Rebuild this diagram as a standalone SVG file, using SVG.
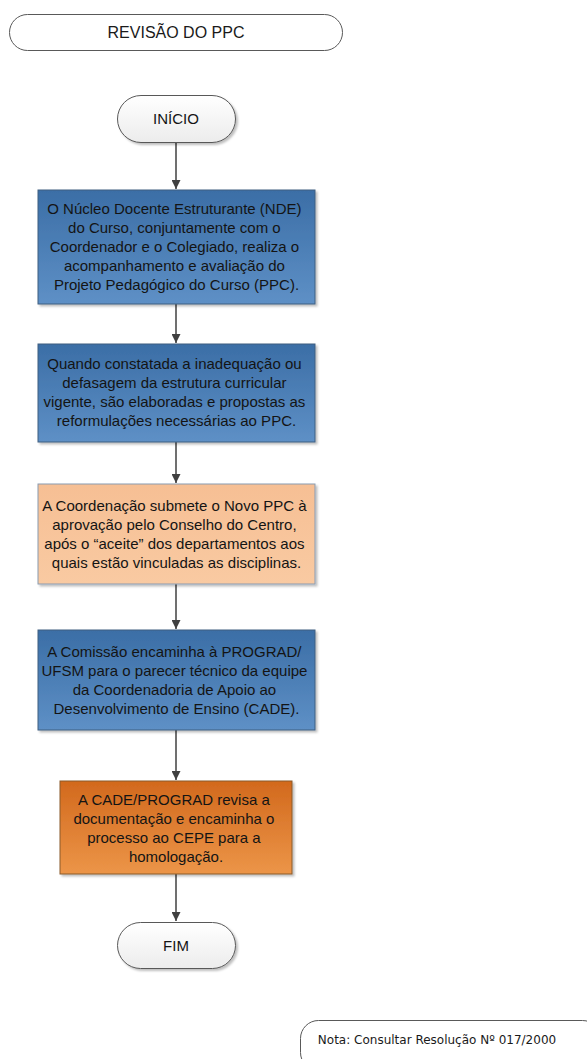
<svg xmlns="http://www.w3.org/2000/svg" width="587" height="1059" viewBox="0 0 587 1059">
  <style>
    .term { fill: url(#termFill); stroke: #595959; stroke-width: 1; }
    .plain { fill: #ffffff; stroke: #595959; stroke-width: 1; }
    .box { stroke: #3f5f80; stroke-width: 1; }
    .lbl { font-family: "Liberation Sans", Arial, sans-serif; font-size: 15px; fill: #141414; text-anchor: middle; }
    .title { font-family: "Liberation Sans", Arial, sans-serif; font-size: 16px; fill: #1a1a1a; text-anchor: middle; }
    .note { font-family: "DejaVu Sans", Verdana, sans-serif; font-size: 12px; fill: #1a1a1a; text-anchor: middle; }
    .conn { stroke: #404040; stroke-width: 1.5; fill: none; marker-end: url(#arrow); }
  </style>
  <defs>
    <linearGradient id="termFill" x1="0" y1="0" x2="0" y2="1">
      <stop offset="0" stop-color="#ffffff"/>
      <stop offset="1" stop-color="#ececec"/>
    </linearGradient>
    <linearGradient id="blueFill" x1="0" y1="0" x2="0" y2="1">
      <stop offset="0" stop-color="#3b6ea6"/>
      <stop offset="1" stop-color="#5e90c6"/>
    </linearGradient>
    <linearGradient id="peachFill" x1="0" y1="0" x2="0" y2="1">
      <stop offset="0" stop-color="#f6bf94"/>
      <stop offset="1" stop-color="#f9caa2"/>
    </linearGradient>
    <linearGradient id="orangeFill" x1="0" y1="0" x2="0" y2="1">
      <stop offset="0" stop-color="#d2691d"/>
      <stop offset="1" stop-color="#ec9548"/>
    </linearGradient>
    <filter id="shadow" x="-5%" y="-5%" width="115%" height="120%">
      <feDropShadow dx="2" dy="2" stdDeviation="1.2" flood-color="#000" flood-opacity="0.25"/>
    </filter>
    <marker id="arrow" viewBox="0 0 10 10" refX="10" refY="5" markerWidth="6" markerHeight="6" markerUnits="strokeWidth" orient="auto">
      <path d="M0,0 L10,5 L0,10 Z" fill="#404040"/>
    </marker>
  </defs>

  <!-- page title -->
  <g id="title">
    <rect class="plain" x="9.5" y="14.5" width="333" height="36" rx="18"/>
    <text class="title" x="176" y="38">REVISÃO DO PPC</text>
  </g>

  <!-- connectors -->
  <g id="connectors">
    <line class="conn" x1="176" y1="142" x2="176" y2="189"/>
    <line class="conn" x1="176" y1="304" x2="176" y2="343"/>
    <line class="conn" x1="176" y1="442" x2="176" y2="483"/>
    <line class="conn" x1="176" y1="584" x2="176" y2="629"/>
    <line class="conn" x1="176" y1="730" x2="176" y2="780"/>
    <line class="conn" x1="176" y1="874" x2="176" y2="921"/>
  </g>

  <g id="inicio">
    <rect class="term" x="117.5" y="95.5" width="118" height="47" rx="23.5" filter="url(#shadow)"/>
    <text class="lbl" x="176" y="124">INÍCIO</text>
  </g>

  <g id="step1">
    <rect class="box" x="38" y="190" width="277" height="114" fill="url(#blueFill)" filter="url(#shadow)"/>
    <text class="lbl">
      <tspan x="176.5" y="214">O Núcleo Docente Estruturante (NDE)</tspan>
      <tspan x="176.5" y="233">do Curso, conjuntamente com o</tspan>
      <tspan x="176.5" y="252">Coordenador e o Colegiado, realiza o</tspan>
      <tspan x="176.5" y="271">acompanhamento e avaliação do</tspan>
      <tspan x="176.5" y="290">Projeto Pedagógico do Curso (PPC).</tspan>
    </text>
  </g>

  <g id="step2">
    <rect class="box" x="38" y="344" width="277" height="98" fill="url(#blueFill)" filter="url(#shadow)"/>
    <text class="lbl">
      <tspan x="176.5" y="369">Quando constatada a inadequação ou</tspan>
      <tspan x="176.5" y="388">defasagem da estrutura curricular</tspan>
      <tspan x="176.5" y="407">vigente, são elaboradas e propostas as</tspan>
      <tspan x="176.5" y="426">reformulações necessárias ao PPC.</tspan>
    </text>
  </g>

  <g id="step3">
    <rect x="38" y="484" width="277" height="100" fill="url(#peachFill)" stroke="#8a9bb0" stroke-width="1" filter="url(#shadow)"/>
    <text class="lbl">
      <tspan x="176.5" y="511">A Coordenação submete o Novo PPC à</tspan>
      <tspan x="176.5" y="530">aprovação pelo Conselho do Centro,</tspan>
      <tspan x="176.5" y="549">após o “aceite” dos departamentos aos</tspan>
      <tspan x="176.5" y="568">quais estão vinculadas as disciplinas.</tspan>
    </text>
  </g>

  <g id="step4">
    <rect class="box" x="38" y="630" width="277" height="100" fill="url(#blueFill)" filter="url(#shadow)"/>
    <text class="lbl">
      <tspan x="176.5" y="657">A Comissão encaminha à PROGRAD/</tspan>
      <tspan x="176.5" y="676">UFSM para o parecer técnico da equipe</tspan>
      <tspan x="176.5" y="695">da Coordenadoria de Apoio ao</tspan>
      <tspan x="176.5" y="714">Desenvolvimento de Ensino (CADE).</tspan>
    </text>
  </g>

  <g id="step5">
    <rect x="60" y="781" width="232" height="93" fill="url(#orangeFill)" stroke="#8a5a2a" stroke-width="1" filter="url(#shadow)"/>
    <text class="lbl">
      <tspan x="176" y="805">A CADE/PROGRAD revisa a</tspan>
      <tspan x="176" y="824">documentação e encaminha o</tspan>
      <tspan x="176" y="843">processo ao CEPE para a</tspan>
      <tspan x="176" y="862">homologação.</tspan>
    </text>
  </g>

  <g id="fim">
    <rect class="term" x="117.5" y="922.5" width="118" height="46" rx="23" filter="url(#shadow)"/>
    <text class="lbl" x="176" y="951">FIM</text>
  </g>

  <g id="nota">
    <rect class="plain" x="300.5" y="1020.5" width="300" height="50" rx="18"/>
    <text class="note" x="437" y="1044">Nota: Consultar Resolução Nº 017/2000</text>
  </g>
</svg>
